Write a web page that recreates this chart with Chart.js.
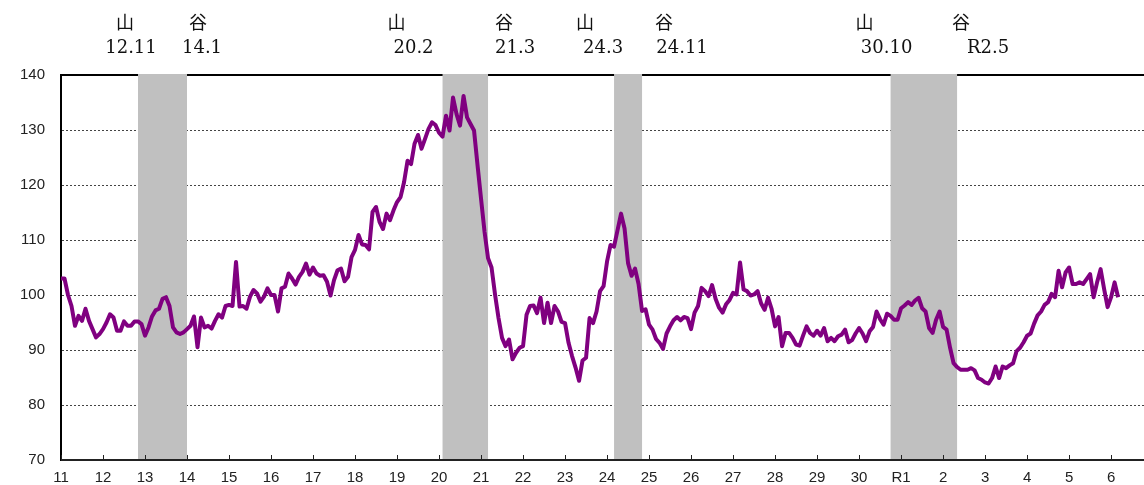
<!DOCTYPE html>
<html>
<head>
<meta charset="utf-8">
<script src="https://cdn.jsdelivr.net/npm/chart.js@4.4.1/dist/chart.umd.min.js"></script>
<style>
  html, body { margin: 0; padding: 0; background: #fff; }
</style>
</head>
<body>
<canvas id="cycleChart" width="1144" height="485"></canvas>
<script>
// x axis: one tick per year (Heisei 11 .. Reiwa 6)
const yearLabels = ["11", "12", "13", "14", "15", "16", "17", "18", "19", "20",
  "21", "22", "23", "24", "25", "26", "27", "28", "29", "30",
  "R1", "2", "3", "4", "5", "6"];

// monthly index values, Jan..Dec
const h11 = [103, 103, 100, 98, 94.4, 96.2, 95.3, 97.5, 95.3, 93.8, 92.3, 92.9];
const h12 = [93.8, 95, 96.5, 95.9, 93.5, 93.5, 95.2, 94.4, 94.4, 95.2, 95.2, 94.7];
const h13 = [92.6, 94.1, 96.1, 97.2, 97.5, 99.3, 99.6, 98, 94.1, 93.2, 92.9, 93.2];
const h14 = [93.8, 94.4, 96.1, 90.5, 95.9, 94.1, 94.4, 93.9, 95.3, 96.5, 95.9, 98];
const h15 = [98.2, 98, 106, 97.9, 98, 97.5, 99.7, 100.9, 100.3, 98.8, 99.7, 101.2];
const h16 = [100, 100, 97, 101.2, 101.5, 103.9, 103, 101.9, 103.3, 104.2, 105.7, 103.7];
const h17 = [105, 103.9, 103.5, 103.6, 102.4, 99.9, 102.7, 104.5, 104.8, 102.5, 103.3, 106.9];
const h18 = [108.2, 110.9, 109.2, 109.1, 108.3, 115.1, 116, 113.3, 112, 114.8, 113.6, 115.4];
const h19 = [116.9, 117.8, 120.5, 124.4, 123.8, 127.5, 129.1, 126.6, 128.4, 130.2, 131.4, 130.9];
const h20 = [129.5, 128.8, 132.6, 129.9, 135.9, 132.9, 130.8, 136.2, 132.3, 131.1, 129.9, 123.6];
const h21 = [117.5, 111.5, 106.7, 105, 100.1, 95.8, 92.2, 90.7, 91.9, 88.3, 89.5, 90.4];
const h22 = [90.7, 96.4, 98, 98.1, 96.7, 99.5, 94.9, 98.6, 94.9, 98, 97, 95.1];
const h23 = [94.9, 91.3, 88.9, 86.8, 84.4, 88.1, 88.6, 95.8, 94.9, 97, 100.7, 101.6];
const h24 = [106.1, 109.1, 108.8, 111.8, 114.8, 112.1, 105.8, 103.5, 104.8, 102, 97.1, 97.4];
const h25 = [94.6, 93.7, 92, 91.3, 90.2, 93, 94.3, 95.4, 96, 95.4, 96, 95.8];
const h26 = [93.8, 96.8, 98, 101.3, 100.7, 99.8, 101.8, 99.3, 97.7, 96.8, 98.3, 99.1];
const h27 = [100.4, 100.1, 105.9, 101, 100.7, 99.9, 100.1, 100.7, 98.5, 97.3, 99.5, 97.5];
const h28 = [94.3, 96, 90.7, 93.1, 93.1, 92.2, 91, 90.8, 92.6, 94.3, 93.1, 92.6];
const h29 = [93.5, 92.6, 94, 91.6, 92.2, 91.6, 92.5, 92.8, 93.7, 91.4, 91.8, 93];
const h30 = [94, 93, 91.6, 93.4, 94.2, 97, 95.6, 94.6, 96.6, 96.2, 95.5, 95.5];
const r1 = [97.6, 98.1, 98.7, 98.2, 99, 99.5, 97.6, 97, 94, 93.1, 95.5, 97];
const r2 = [94.2, 93.7, 90.4, 87.6, 86.9, 86.4, 86.4, 86.4, 86.7, 86.3, 84.9, 84.6];
const r3 = [84.1, 83.9, 84.9, 87, 84.9, 87, 86.7, 87.2, 87.6, 89.8, 90.4, 91.4];
const r4 = [92.6, 93, 94.8, 96.3, 97, 98.2, 98.7, 100.2, 99.6, 104.4, 101.4, 104.1];
const r5 = [105, 102, 102, 102.3, 102, 102.9, 103.8, 99.6, 102.3, 104.7, 101.1, 97.8];
const r6 = [99.6, 102.3, 99.6];

// business cycle peaks (山) and troughs (谷)
const peaks = ["12.11", "20.2", "24.3", "30.10"];
const troughs = ["14.1", "21.3", "24.11", "R2.5"];

// label placement (pixels relative to band edges), not data
const peakShift = [-7, -29, -11, -4];
const troughShift = [15, 27, 40, 31];
const peakKanjiShift = [-6, -17, -18, -22];
const troughKanjiShift = [-4, -11, -18, -27];

const monthly = [].concat(h11, h12, h13, h14, h15, h16, h17, h18, h19, h20,
  h21, h22, h23, h24, h25, h26, h27, h28, h29, h30, r1, r2, r3, r4, r5, r6);

// "12.11" -> months since Heisei 11.1, "R2.5" -> Reiwa 2 = Heisei 32
function monthIndex(label) {
  let [y, m] = label.split(".");
  y = y.startsWith("R") ? Number(y.slice(1)) + 30 : Number(y);
  return (y - 11) * 12 + Number(m) - 1;
}

const cyclePlugin = {
  id: "cycles",
  beforeDatasetsDraw(chart) {
    const { ctx, chartArea: a, scales: { x } } = chart;
    ctx.save();
    ctx.strokeStyle = "#000";
    ctx.lineWidth = 2;
    ctx.beginPath();
    ctx.moveTo(a.left, a.top);
    ctx.lineTo(a.right, a.top);
    ctx.stroke();

    ctx.fillStyle = "#c0c0c0";
    peaks.forEach((p, k) => {
      const x0 = x.getPixelForValue(monthIndex(p));
      const x1 = x.getPixelForValue(monthIndex(troughs[k]));
      ctx.fillRect(x0, a.top - 1, x1 - x0, a.bottom - a.top + 1);
    });

    ctx.strokeStyle = "#222";
    ctx.lineWidth = 2;
    ctx.beginPath();
    ctx.moveTo(a.left, a.bottom);
    ctx.lineTo(a.right, a.bottom);
    ctx.stroke();
    ctx.lineWidth = 1;
    x.ticks.forEach(t => {
      const px = Math.round(x.getPixelForValue(t.value)) + 0.5;
      ctx.beginPath();
      ctx.moveTo(px, a.bottom - 5);
      ctx.lineTo(px, a.bottom);
      ctx.stroke();
    });
    ctx.restore();
  },
  afterDraw(chart) {
    const { ctx, scales: { x } } = chart;
    ctx.save();
    ctx.fillStyle = "#111";
    ctx.textAlign = "center";
    ctx.textBaseline = "middle";
    const put = (label, kanji, edge, shift, kshift) => {
      const cx = x.getPixelForValue(monthIndex(edge)) + shift;
      ctx.font = '18px "DejaVu Serif"';
      ctx.fillText(label, cx, 48);
      ctx.font = '18px "Noto Sans CJK JP"';
      ctx.fillText(kanji, cx + kshift, 22);
    };
    peaks.forEach((p, k) => put(p, "山", p, peakShift[k], peakKanjiShift[k]));
    troughs.forEach((t, k) => put(t, "谷", t, troughShift[k], troughKanjiShift[k]));
    ctx.restore();
  }
};

new Chart(document.getElementById("cycleChart"), {
  type: "line",
  data: {
    datasets: [{
      data: monthly.map((v, i) => ({ x: i, y: v })),
      borderColor: "#800080",
      borderWidth: 4,
      pointRadius: 0,
      tension: 0,
      borderJoinStyle: "round",
      fill: false
    }]
  },
  options: {
    responsive: false,
    animation: false,
    devicePixelRatio: 1,
    layout: { padding: { top: 75, right: 0, bottom: 0, left: 0 } },
    plugins: { legend: { display: false }, tooltip: { enabled: false } },
    scales: {
      x: {
        type: "linear",
        min: 0,
        max: 309.4,
        afterBuildTicks: s => { s.ticks = yearLabels.map((_, k) => ({ value: k * 12 })); },
        afterFit: s => { s.height = 24; },
        grid: { display: false, drawTicks: false },
        border: { display: false },
        ticks: {
          padding: 9,
          maxRotation: 0,
          autoSkip: false,
          color: "#222",
          font: { family: "Liberation Sans", size: 15 },
          callback: v => yearLabels[v / 12]
        }
      },
      y: {
        min: 70,
        max: 140,
        afterFit: s => { s.width = 61; },
        grid: {
          drawTicks: false,
          lineWidth: 1,
          color: c => (c.tick && (c.tick.value === 70 || c.tick.value === 140)) ? "rgba(0,0,0,0)" : "#444"
        },
        border: { display: true, color: "#000", width: 2, dash: c => c.type === "tick" ? [2, 2] : [] },
        ticks: {
          stepSize: 10,
          padding: 16,
          color: "#222",
          font: { family: "Liberation Sans", size: 15 }
        }
      }
    }
  },
  plugins: [cyclePlugin]
});
</script>
</body>
</html>
